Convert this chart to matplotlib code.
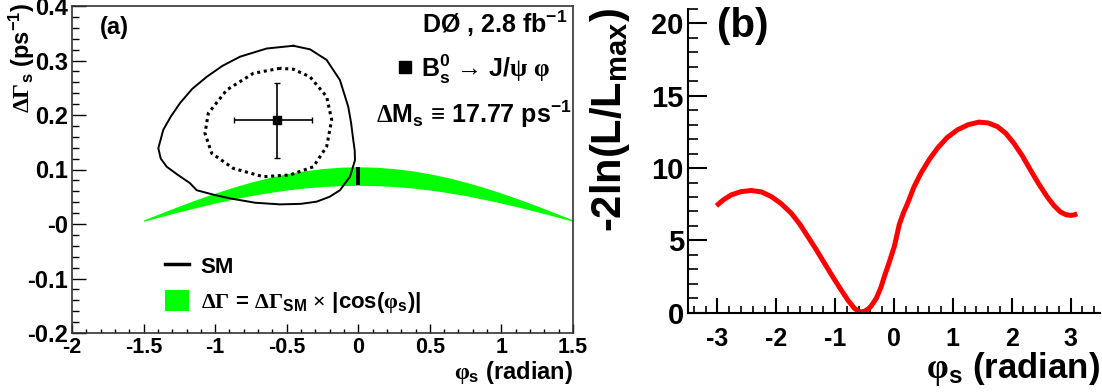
import numpy as np
import matplotlib
matplotlib.use("Agg")
import matplotlib.pyplot as plt
from matplotlib.lines import Line2D
from matplotlib.patches import Patch
from matplotlib.ticker import MultipleLocator, FixedLocator, FixedFormatter

plt.rcParams['font.family'] = ['Liberation Sans', 'DejaVu Sans']
plt.rcParams['font.weight'] = 'bold'
plt.rcParams['axes.unicode_minus'] = False
plt.rcParams['mathtext.fontset'] = 'custom'
plt.rcParams['mathtext.rm'] = 'Liberation Sans:bold'
plt.rcParams['mathtext.it'] = 'Liberation Sans:bold'
plt.rcParams['mathtext.bf'] = 'Liberation Sans:bold'
plt.rcParams['mathtext.sf'] = 'Liberation Sans:bold'
plt.rcParams['mathtext.cal'] = 'Liberation Serif'

# ---- panel (a) data ----
# 1 sigma (dotted) and 2 sigma (solid) contours, phi_s vs DeltaGamma_s
c2_phi = [-0.454, -0.64, -0.826, -0.95, -1.059, -1.16, -1.245, -1.31, -1.362, -1.397,
          -1.38, -1.338, -1.26, -1.176, -1.129, -1.0, -0.896, -0.72, -0.547, -0.40,
          -0.291, -0.2, -0.128, -0.058, -0.023, -0.025, -0.035, -0.05, -0.07, -0.128,
          -0.221, -0.337, -0.454]
c2_dg = [0.327, 0.322, 0.307, 0.29, 0.270, 0.248, 0.222, 0.197, 0.173, 0.139,
         0.12, 0.105, 0.09, 0.075, 0.062, 0.053, 0.047, 0.039, 0.036, 0.037,
         0.041, 0.05, 0.062, 0.087, 0.117, 0.135, 0.154, 0.185, 0.215, 0.264,
         0.301, 0.3205, 0.327]

c1_phi = [-0.547, -0.733, -0.919, -1.048, -1.071, -1.024, -0.873, -0.664, -0.477,
          -0.314, -0.221, -0.186, -0.221, -0.337, -0.454, -0.547]
c1_dg = [0.2857, 0.2765, 0.246, 0.203, 0.1664, 0.1297, 0.102, 0.0868, 0.090,
         0.105, 0.142, 0.191, 0.2336, 0.270, 0.284, 0.2857]

# best fit point
best_phi = -0.57
best_dg = 0.19
best_phi_err = [[0.30], [0.245]]
best_dg_err = 0.069

# SM band  dG_SM x |cos(phi_s)|
band_phi = [-1.5, -1.375, -1.25, -1.125, -1.0, -0.875, -0.75, -0.625, -0.5, -0.375, -0.25, -0.125,
            0.0, 0.125, 0.25, 0.375, 0.5, 0.625, 0.75, 0.875, 1.0, 1.125, 1.25, 1.375, 1.5]
band_hi = [0.0074, 0.0204, 0.0331, 0.0453, 0.0567, 0.0673, 0.0768, 0.0852, 0.0921, 0.0977, 0.1017, 0.1042,
           0.105, 0.1042, 0.1017, 0.0977, 0.0921, 0.0852, 0.0768, 0.0673, 0.0567, 0.0453, 0.0331, 0.0204, 0.0074]
band_lo = [0.0050, 0.0138, 0.0224, 0.0306, 0.0384, 0.0455, 0.0520, 0.0576, 0.0623, 0.0661, 0.0688, 0.0704,
           0.071, 0.0704, 0.0688, 0.0661, 0.0623, 0.0576, 0.0520, 0.0455, 0.0384, 0.0306, 0.0224, 0.0138, 0.0050]
sm_phi = 0.0
sm_lo = 0.071
sm_hi = 0.105

a_yticks = [-0.2, -0.1, 0.0, 0.1, 0.2, 0.3, 0.4]
a_ylabels = ["-0.2", "-0.1", "-0", "0.1", "0.2", "0.3", "0.4"]
a_xticks = [-2, -1.5, -1, -0.5, 0, 0.5, 1, 1.5]
a_xlabels = ["-2", "-1.5", "-1", "-0.5", "0", "0.5", "1", "1.5"]

# ---- panel (b) data: -2 ln(L/Lmax) vs phi_s ----
b_phi = [-3.017, -2.9, -2.763, -2.6, -2.424, -2.25, -2.085, -1.92, -1.746, -1.6, -1.463,
         -1.32, -1.181, -1.04, -0.898, -0.78, -0.672, -0.61, -0.559, -0.5, -0.44, -0.39,
         -0.3, -0.22, -0.164, -0.08, 0.005, 0.09, 0.16, 0.232, 0.34, 0.458, 0.6, 0.74,
         0.9, 1.08, 1.26, 1.446, 1.6, 1.757, 1.9, 2.04, 2.18, 2.32, 2.46, 2.605, 2.72,
         2.83, 2.92, 3.0, 3.06, 3.113]
b_nll = [7.39, 7.8, 8.15, 8.37, 8.45, 8.35, 8.03, 7.55, 6.88, 6.12, 5.26,
         4.35, 3.42, 2.48, 1.57, 0.85, 0.30, 0.12, 0.05, 0.1, 0.25, 0.45,
         1.0, 1.77, 2.50, 3.5, 4.57, 6.1, 6.9, 7.57, 8.7, 9.65, 10.6, 11.38,
         12.1, 12.65, 13.0, 13.18, 13.12, 12.87, 12.4, 11.7, 10.85, 9.86, 8.9, 8.0, 7.4,
         6.96, 6.78, 6.73, 6.76, 6.84]

W, H = 1102, 392
def fx(px):
    return px / W
def fy(py):
    return 1 - py / H

fig = plt.figure(figsize=(W / 100, H / 100), dpi=100)

# ================= panel (a) =================
axA = fig.add_axes([fx(72), fy(333), 501 / W, 327 / H])
axA.fill_between(band_phi, band_lo, band_hi, color='#00ff00', lw=0)
axA.plot(c2_phi, c2_dg, color='k', lw=1.4)
axA.plot(c1_phi, c1_dg, color='k', lw=2.2, ls=(0, (1, 1.2)))
axA.errorbar([best_phi], [best_dg], xerr=best_phi_err, yerr=best_dg_err, fmt='s',
             color='k', ms=6, lw=1.2, capsize=2, capthick=1.0)
axA.vlines([sm_phi], [sm_lo], [sm_hi], color='k', lw=2.8)

axA.set_xlim(-2, 1.5)
axA.set_ylim(-0.2, 0.4)
axA.xaxis.set_major_locator(FixedLocator(a_xticks))
axA.xaxis.set_major_formatter(FixedFormatter(a_xlabels))
axA.xaxis.set_minor_locator(MultipleLocator(0.1))
axA.yaxis.set_major_locator(FixedLocator(a_yticks))
axA.yaxis.set_major_formatter(FixedFormatter(a_ylabels))
axA.yaxis.set_minor_locator(MultipleLocator(0.02))
axA.tick_params(axis='x', which='major', direction='in', length=6.5, width=1, pad=3, labelsize=15.5)
axA.tick_params(axis='x', which='minor', direction='in', length=3, width=1)
axA.tick_params(axis='y', which='major', direction='in', length=10, width=1, pad=3, labelsize=17)
axA.tick_params(axis='y', which='minor', direction='in', length=5, width=1)
for s in axA.spines.values():
    s.set_linewidth(1.2)
    s.set_color('#333333')

fig.text(fx(22), fy(3), r'$\mathcal{ΔΓ}_{s}$ (ps$^{-1}$)', rotation=90, ha='center', va='top',
         fontsize=17, fontweight='bold')
fig.text(fx(573), fy(379), r'$\mathcal{φ}_{s}$ (radian)', ha='right', va='baseline',
         fontsize=17, fontweight='bold')
fig.text(fx(100), fy(27.5), '(a)', ha='left', va='center', fontsize=17, fontweight='bold')
fig.text(fx(567), fy(33), r'DØ , 2.8 fb$^{-1}$', ha='right', va='baseline', fontsize=18,
         fontweight='bold')
fig.add_artist(Line2D([fx(405)], [fy(67)], marker='s', ms=8.5, color='k', ls='none'))
fig.text(fx(550), fy(77), r'B$_{s}^{0}$ $\mathcal{→}$ J/$\mathcal{ψ}$ $\mathcal{φ}$', ha='right',
         va='baseline', fontsize=18, fontweight='bold')
fig.text(fx(572), fy(123), r'$\mathcal{Δ}$M$_{s}$ $\mathcal{≡}$ 17.77 ps$^{-1}$', ha='right',
         va='baseline', fontsize=18, fontweight='bold')

handles = [Line2D([], [], color='k', lw=2.5),
           Patch(facecolor='#00ff00', edgecolor='none')]
labels = ['SM', r'$\mathcal{ΔΓ}$ = $\mathcal{ΔΓ}_{SM}$ $\mathcal{×}$ |cos($\mathcal{φ}_{s}$)|']
axA.legend(handles, labels, loc='upper left', bbox_to_anchor=(fx(165), fy(255)),
           bbox_transform=fig.transFigure, frameon=False,
           prop={'weight': 'bold', 'size': 16},
           handlelength=1.1, handleheight=1.05, handletextpad=0.5, labelspacing=0.55,
           borderpad=0, borderaxespad=0)

# ================= panel (b) =================
axB = fig.add_axes([fx(688), fy(312.7), 412 / W, 303.7 / H])
axB.plot(b_phi, b_nll, color='#ff0000', lw=3.6, solid_capstyle='butt')
axB.set_xlim(-3.5, 3.5)
axB.set_ylim(0, 21)
axB.xaxis.set_major_locator(MultipleLocator(1))
axB.xaxis.set_minor_locator(MultipleLocator(0.2))
axB.yaxis.set_major_locator(MultipleLocator(5))
axB.yaxis.set_minor_locator(MultipleLocator(1))
axB.tick_params(axis='x', which='major', direction='in', length=11, width=1.5, pad=10, labelsize=18)
axB.tick_params(axis='x', which='minor', direction='in', length=5, width=1.2)
axB.tick_params(axis='y', which='major', direction='in', length=14, width=1.5, pad=3, labelsize=21)
axB.tick_params(axis='y', which='minor', direction='in', length=7, width=1.2)
axB.spines['top'].set_visible(False)
axB.spines['right'].set_visible(False)
axB.spines['left'].set_linewidth(1.5)
axB.spines['bottom'].set_linewidth(1.5)

fig.text(fx(610), fy(8), r'-2ln(L/L$_{max}$)', rotation=90, ha='center', va='top',
         fontsize=30, fontweight='bold')
fig.text(fx(717), fy(26), '(b)', ha='left', va='center', fontsize=29, fontweight='bold')
fig.text(fx(1100), fy(378), r'$\mathcal{φ}_{s}$ (radian)', ha='right', va='baseline',
         fontsize=25, fontweight='bold')

fig.savefig('out.png', dpi=100)
